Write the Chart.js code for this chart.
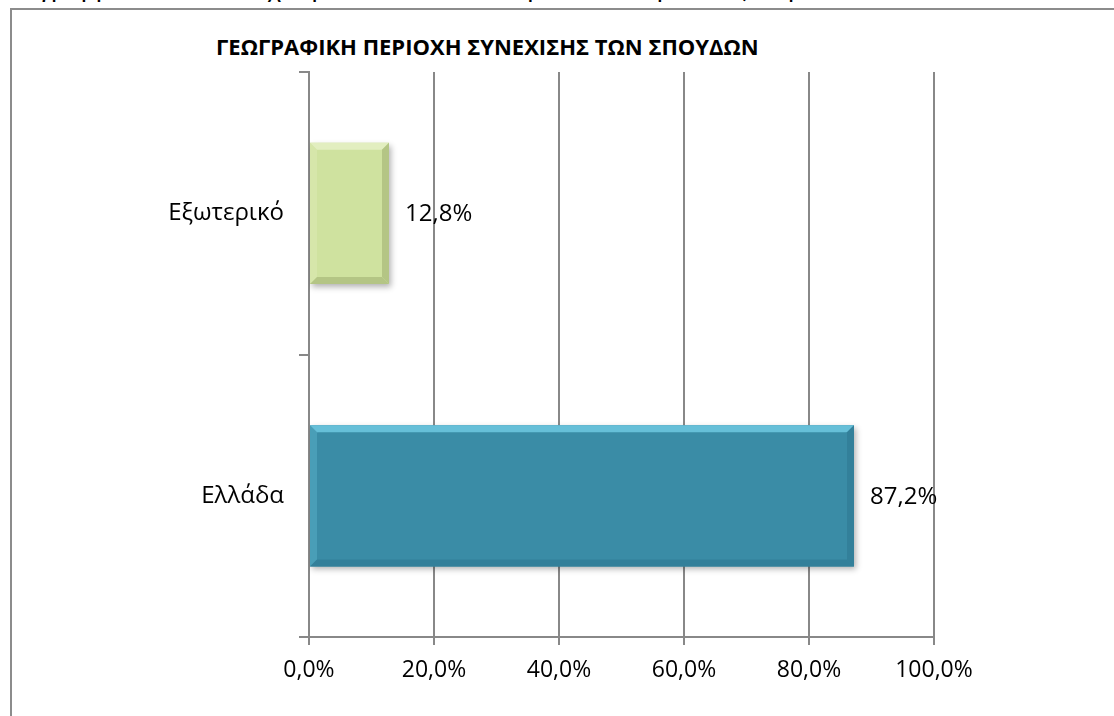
<!DOCTYPE html>
<html>
<head>
<meta charset="utf-8">
<script src="https://cdn.jsdelivr.net/npm/chart.js@4.4.1/dist/chart.umd.min.js"></script>
<style>
  body { margin: 0; background: #fff; overflow: hidden; }
  #wrap { position: relative; width: 1114px; height: 716px; }
  #caption { position: absolute; left: 0; top: -27px; font: 26px "Liberation Sans", Arial, sans-serif; line-height: 30px; color: #000; white-space: nowrap; }
  #frame { position: absolute; left: 10px; top: 8px; width: 1120px; height: 720px; border-left: 2px solid #8c8c8c; border-top: 2px solid #8c8c8c; }
  #title { position: absolute; left: 216px; top: 31px; font: bold 22px "Open Sans", sans-serif; line-height: 30px; color: #000; white-space: nowrap; }
  canvas { position: absolute; left: 0; top: 0; }
</style>
</head>
<body>
<div id="wrap">
  <div id="caption">Διάγραμμα 2.5.1 : Συνέχιση των σπουδών στην Ελλάδα ή στο Εξωτερικό</div>
  <div id="frame"></div>
  <div id="title">ΓΕΩΓΡΑΦΙΚΗ ΠΕΡΙΟΧΗ ΣΥΝΕΧΙΣΗΣ ΤΩΝ ΣΠΟΥΔΩΝ</div>
  <canvas id="chart" width="1114" height="716"></canvas>
</div>
<script>
const categories = ["Εξωτερικό", "Ελλάδα"];
const shares = [12.8, 87.2];
const xTicks = [0, 20, 40, 60, 80, 100];
const barColors = ["#cfe29f", "#3a8ca6"];
const lightEdges = ["#e2eec0", "#66bfd8"];
const darkEdges = ["#b4c585", "#33809a"];

const fmt = v => v.toFixed(1).replace(".", ",") + "%";
const fontFamily = '"Open Sans", sans-serif';

// drop shadow under the bars
const shadowPlugin = {
  id: "shadow",
  beforeDatasetDraw(chart) {
    const c = chart.ctx;
    c.save();
    c.shadowColor = "rgba(0,0,0,0.3)";
    c.shadowBlur = 6;
    c.shadowOffsetX = 2;
    c.shadowOffsetY = 3;
  },
  afterDatasetDraw(chart) {
    chart.ctx.restore();
  }
};

// soft bevel edges + value labels
const bevelPlugin = {
  id: "bevel",
  afterDatasetsDraw(chart) {
    const c = chart.ctx;
    const meta = chart.getDatasetMeta(0);
    meta.data.forEach((bar, i) => {
      const left = bar.base, right = bar.x;
      const top = bar.y - bar.height / 2, bottom = bar.y + bar.height / 2;
      const b = 7;
      c.save();
      c.fillStyle = lightEdges[i];
      c.beginPath();
      c.moveTo(left, top); c.lineTo(right, top); c.lineTo(right - b, top + b); c.lineTo(left + b, top + b);
      c.closePath(); c.fill();
      c.globalAlpha = 0.35;
      c.beginPath();
      c.moveTo(left, top); c.lineTo(left + b, top + b); c.lineTo(left + b, bottom - b); c.lineTo(left, bottom);
      c.closePath(); c.fill();
      c.globalAlpha = 1;
      c.fillStyle = darkEdges[i];
      c.beginPath();
      c.moveTo(right, top); c.lineTo(right, bottom); c.lineTo(right - b, bottom - b); c.lineTo(right - b, top + b);
      c.closePath(); c.fill();
      c.beginPath();
      c.moveTo(left, bottom); c.lineTo(right, bottom); c.lineTo(right - b, bottom - b); c.lineTo(left + b, bottom - b);
      c.closePath(); c.fill();

      c.fillStyle = "#000";
      c.font = "24px " + fontFamily;
      c.textAlign = "left";
      c.textBaseline = "middle";
      c.fillText(fmt(shares[i]), right + 16, bar.y + 1);
      c.restore();
    });
  }
};

new Chart(document.getElementById("chart"), {
  type: "bar",
  data: {
    labels: categories,
    datasets: [{
      data: shares,
      backgroundColor: barColors,
      borderWidth: 0,
      barPercentage: 0.5,
      categoryPercentage: 1
    }]
  },
  options: {
    indexAxis: "y",
    responsive: false,
    animation: false,
    layout: { padding: { top: 72, right: 180, left: 0, bottom: 0 } },
    plugins: { legend: { display: false }, tooltip: { enabled: false } },
    scales: {
      x: {
        min: 0,
        max: 100,
        afterBuildTicks: s => { s.ticks = xTicks.map(v => ({ value: v })); },
        afterFit: s => { s.height = 79; },
        ticks: { callback: v => fmt(v), color: "#000", font: { family: fontFamily, size: 23 }, padding: 12 },
        grid: { color: "#888", lineWidth: 2, tickLength: 8 },
        border: { color: "#888", width: 2 }
      },
      y: {
        afterFit: s => { s.width = 309; },
        ticks: { color: "#000", font: { family: fontFamily, size: 24 }, padding: 15 },
        grid: { offset: true, drawOnChartArea: false, color: "#888", lineWidth: 2, tickLength: 10 },
        border: { color: "#888", width: 2 }
      }
    }
  },
  plugins: [shadowPlugin, bevelPlugin]
});
</script>
</body>
</html>
